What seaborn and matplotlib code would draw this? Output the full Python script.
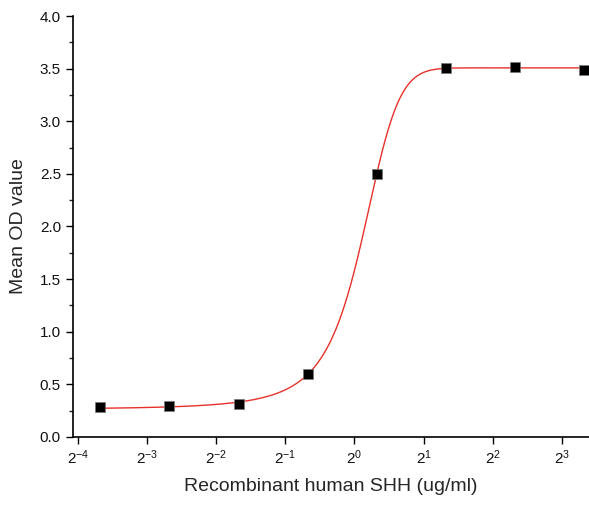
import matplotlib
matplotlib.use('Agg')
import matplotlib.pyplot as plt
import matplotlib.ticker as mticker
import numpy as np
import pandas as pd
import seaborn as sns

# concentrations (ug/ml) and mean OD readings
conc = [0.078, 0.156, 0.3125, 0.625, 1.25, 2.5, 5.0, 10.0]
od = [0.28, 0.29, 0.31, 0.60, 2.50, 3.51, 3.52, 3.49]


def boltzmann(x, bottom, top, x0, dx):
    return top + (bottom - top) / (1.0 + np.exp((x - x0) / dx))


def fit_boltzmann(x, y):
    # grid over x0 / dx, bottom and top by linear least squares
    x = np.asarray(x)
    y = np.asarray(y)
    best = None
    for x0 in np.linspace(0.8, 1.4, 241):
        for dx in np.linspace(0.1, 0.4, 301):
            g = 1.0 / (1.0 + np.exp((x - x0) / dx))
            A = np.vstack([g, 1 - g]).T
            coef, *_ = np.linalg.lstsq(A, y, rcond=None)
            err = np.sum((A @ coef - y) ** 2)
            if best is None or err < best[0]:
                best = (err, coef[0], coef[1], x0, dx)
    return best[1:]


params = fit_boltzmann(conc, od)
xs = np.logspace(np.log2(conc[0]), np.log2(conc[-1]), 500, base=2)
curve = pd.DataFrame({'x': xs, 'y': boltzmann(xs, *params)})
pts = pd.DataFrame({'x': conc, 'y': od})

sns.set_style('ticks')
plt.rcParams['font.family'] = ['Liberation Sans', 'DejaVu Sans']

fig = plt.figure(figsize=(5.89, 5.05), dpi=100)
ax = fig.add_axes([0.1235, 0.135, 0.876, 0.833])

sns.lineplot(data=curve, x='x', y='y', ax=ax, color='#e8302a', linewidth=1.0)
sns.scatterplot(data=pts, x='x', y='y', ax=ax, marker='s', color='black',
                s=60, edgecolor='#777777', linewidth=0.5, zorder=3)

ax.set_xscale('log', base=2)
ax.set_xlim(2 ** -4.077, 2 ** 3.39)
ax.set_ylim(0, 4.0)
ax.xaxis.set_major_locator(mticker.FixedLocator([2.0 ** k for k in range(-4, 4)]))
ax.xaxis.set_major_formatter(mticker.FuncFormatter(
    lambda v, p: r'$\mathregular{2^{%d}}$' % int(round(np.log2(v)))))
ax.xaxis.set_minor_locator(mticker.NullLocator())
ax.yaxis.set_major_locator(mticker.MultipleLocator(0.5))
ax.yaxis.set_minor_locator(mticker.MultipleLocator(0.25))
ax.yaxis.set_major_formatter(mticker.FormatStrFormatter('%.1f'))

ax.tick_params(axis='both', which='major', direction='out', length=5,
               width=1, labelsize=11, color='black', labelcolor='#111111')
ax.tick_params(axis='y', which='minor', direction='out', length=3, width=1)

ax.set_xlabel('Recombinant human SHH (ug/ml)', fontsize=14, labelpad=8)
ax.set_ylabel('Mean OD value', fontsize=14, labelpad=9)

for side in ['top', 'right']:
    ax.spines[side].set_visible(False)
for side in ['left', 'bottom']:
    ax.spines[side].set_linewidth(1.2)
    ax.spines[side].set_color('black')

fig.savefig('out.png', dpi=100)
